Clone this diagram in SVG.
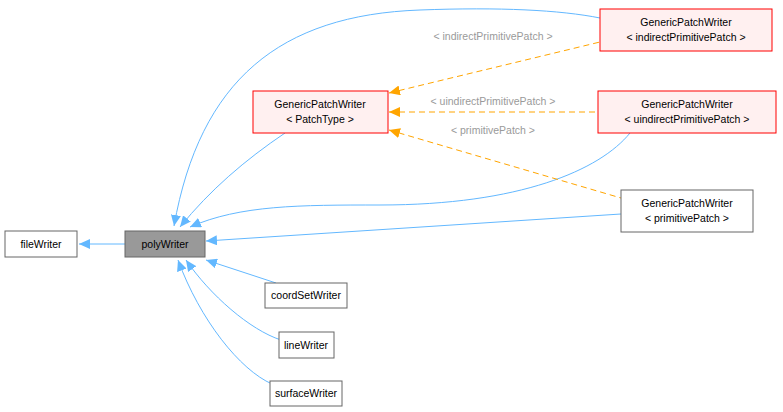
<svg xmlns="http://www.w3.org/2000/svg" width="783" height="412" viewBox="0 0 783 412">
<style>
text{font-family:"Liberation Sans",Arial,sans-serif;font-size:10.5px;text-anchor:middle;fill:#000}
.n{fill:#fff;stroke:#666;stroke-width:1}
.r{fill:#FFF0F0;stroke:#FF0000;stroke-width:1}
.b{fill:none;stroke:#63B8FF;stroke-width:1}
.o{fill:none;stroke:#FFA500;stroke-width:1;stroke-dasharray:6,4}
.l{fill:#9A9A9A}
</style>
<defs>
<marker id="ab" markerWidth="12" markerHeight="10" refX="1" refY="5" orient="auto" markerUnits="userSpaceOnUse"><path d="M12,0 L1,5 L12,10 Z" fill="#63B8FF"/></marker>
<marker id="ao" markerWidth="12" markerHeight="10" refX="1" refY="5" orient="auto" markerUnits="userSpaceOnUse"><path d="M12,0 L1,5 L12,10 Z" fill="#FFA500"/></marker>
</defs>
<rect width="783" height="412" fill="#fff"/>
<g id="connectors">
<path class="b" marker-start="url(#ab)" d="M79,244 L125,244"/>
<path class="b" marker-start="url(#ab)" d="M174,226 C200,80 280,15 420,10 C500,7 560,10 600,18"/>
<path class="b" marker-start="url(#ab)" d="M180,227 C210,190 245,160 285,133"/>
<path class="b" marker-start="url(#ab)" d="M190,227 C240,205 300,205 380,205 C520,205 600,170 630,133"/>
<path class="b" marker-start="url(#ab)" d="M206,241 L621,214"/>
<path class="b" marker-start="url(#ab)" d="M206,260 L276,283"/>
<path class="b" marker-start="url(#ab)" d="M186,260 C210,295 250,330 281,340"/>
<path class="b" marker-start="url(#ab)" d="M178,260 C200,320 240,370 272,384"/>
<path class="o" marker-start="url(#ao)" d="M389,93 L600,42"/>
<path class="o" marker-start="url(#ao)" d="M389,112 L598,112"/>
<path class="o" marker-start="url(#ao)" d="M389,130 L621,198"/>
<text class="l" x="493" y="40">&lt; indirectPrimitivePatch &gt;</text>
<text class="l" x="493" y="105">&lt; uindirectPrimitivePatch &gt;</text>
<text class="l" x="493" y="134">&lt; primitivePatch &gt;</text>
</g>
<g id="fileWriter"><rect class="n" x="5" y="231" width="72" height="26"/><text x="41" y="248">fileWriter</text></g>
<g id="polyWriter"><rect x="125" y="231" width="80" height="26" fill="#999" stroke="#666"/><text x="165" y="248">polyWriter</text></g>
<g id="gpwPatchType"><rect class="r" x="253" y="91" width="135" height="42"/><text x="320" y="108">GenericPatchWriter</text><text x="320" y="123">&lt; PatchType &gt;</text></g>
<g id="gpwIndirect"><rect class="r" x="600" y="9" width="172" height="42"/><text x="686" y="26">GenericPatchWriter</text><text x="686" y="41">&lt; indirectPrimitivePatch &gt;</text></g>
<g id="gpwUindirect"><rect class="r" x="598" y="91" width="178" height="42"/><text x="687" y="108">GenericPatchWriter</text><text x="687" y="123">&lt; uindirectPrimitivePatch &gt;</text></g>
<g id="gpwPrimitive"><rect class="n" x="621" y="190" width="132" height="42"/><text x="687" y="207">GenericPatchWriter</text><text x="687" y="222">&lt; primitivePatch &gt;</text></g>
<g id="coordSetWriter"><rect class="n" x="265" y="283" width="82" height="25"/><text x="306" y="299">coordSetWriter</text></g>
<g id="lineWriter"><rect class="n" x="279" y="332" width="55" height="26"/><text x="306" y="349">lineWriter</text></g>
<g id="surfaceWriter"><rect class="n" x="270" y="381" width="72" height="25"/><text x="306" y="397">surfaceWriter</text></g>
</svg>
